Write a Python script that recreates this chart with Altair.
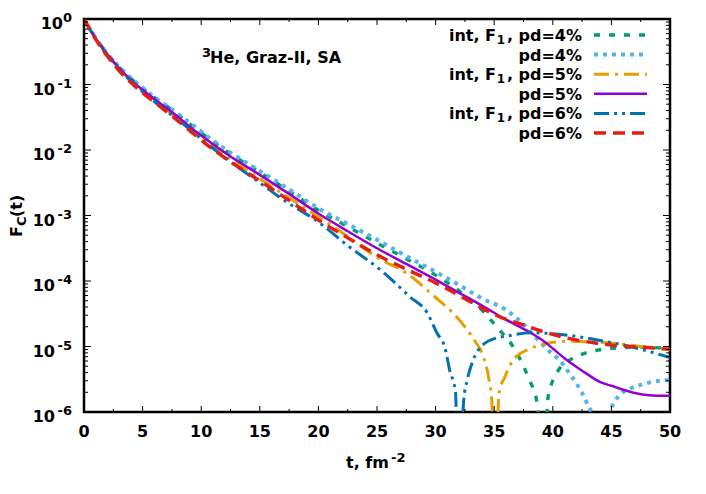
import altair as alt
import pandas as pd

# ---------------- data (t in fm^-2, values given as log10 F_C) ----------------
t_int4 = [0, 1, 2, 3, 4, 5, 6, 7.5, 9, 10, 12.5, 15, 17.5, 20, 22.5, 25, 27.5, 30, 32, 33, 34.2, 35.2, 36.6,
          37.9, 38.7, 39.2, 39.6, 40.6, 41.5, 42.3, 44, 45.7, 47.4, 50]
lg_int4 = [0, -0.29, -0.53, -0.74, -0.91, -1.06, -1.20, -1.39, -1.60, -1.74, -2.06, -2.34, -2.63, -2.92, -3.17,
           -3.42, -3.66, -3.91, -4.15, -4.30, -4.49, -4.70, -5.0, -5.47, -5.9, -7.5, -5.77, -5.33, -5.20, -5.13,
           -5.05, -5.02, -5.01, -5.03]

t_pd4 = [0, 1, 2, 3, 4, 5, 6, 7.5, 9, 10, 12.5, 15, 17.5, 20, 22.5, 25, 27.5, 30, 32, 34, 36, 37.5, 38.9, 40,
         40.6, 41.3, 42, 42.9, 43.5, 44.2, 44.9, 45.3, 45.7, 46.5, 47.4, 48.5, 50]
lg_pd4 = [0, -0.29, -0.53, -0.73, -0.90, -1.05, -1.19, -1.38, -1.58, -1.72, -2.04, -2.32, -2.60, -2.89, -3.13,
          -3.37, -3.62, -3.86, -4.06, -4.27, -4.44, -4.66, -4.93, -5.12, -5.21, -5.38, -5.56, -5.86, -6.15, -7.5,
          -6.0, -5.84, -5.74, -5.65, -5.59, -5.54, -5.51]

t_int5 = [0, 1, 2, 3, 4, 5, 6, 7.5, 9, 10, 12.5, 15, 17.5, 20, 22.5, 25, 27.5, 30, 31.8, 33.4, 34, 34.5, 34.8,
          35.1, 35.4, 35.9, 36.6, 37.3, 38.1, 39.5, 41.5, 43, 45.1, 47.5, 50]
lg_int5 = [0, -0.30, -0.55, -0.76, -0.94, -1.10, -1.24, -1.45, -1.66, -1.81, -2.14, -2.44, -2.73, -3.02, -3.32,
           -3.64, -3.88, -4.25, -4.55, -4.93, -5.12, -5.45, -5.85, -7.5, -5.72, -5.47, -5.21, -5.10, -5.03, -4.95,
           -4.92, -4.93, -4.95, -5.0, -5.05]

t_pd5 = [0, 1, 2, 3, 4, 5, 6, 7.5, 9, 10, 12.5, 15, 17.5, 20, 22.5, 25, 27.5, 30, 32, 34, 36, 38, 39, 40, 41,
         42, 43, 44, 45, 46, 47, 48, 49, 50]
lg_pd5 = [0, -0.30, -0.54, -0.75, -0.93, -1.08, -1.22, -1.42, -1.64, -1.78, -2.10, -2.38, -2.67, -2.97, -3.24,
          -3.50, -3.74, -3.98, -4.18, -4.38, -4.59, -4.78, -4.89, -5.03, -5.18, -5.31, -5.43, -5.54, -5.60, -5.66,
          -5.71, -5.74, -5.75, -5.75]

t_int6 = [0, 1, 2, 3, 4, 5, 6, 7.5, 9, 10, 12.5, 15, 17, 20, 22.5, 25.5, 27.8, 29.3, 30.1, 30.8, 31.2, 31.7,
          31.95, 32.4, 32.7, 33.2, 34.0, 35.2, 36.1, 38.1, 40.9, 43.8, 46.6, 50]
lg_int6 = [0, -0.31, -0.56, -0.77, -0.95, -1.11, -1.26, -1.47, -1.68, -1.83, -2.18, -2.50, -2.76, -3.10, -3.46,
           -3.86, -4.24, -4.49, -4.79, -5.02, -5.36, -5.70, -7.5, -5.82, -5.51, -5.21, -4.98, -4.87, -4.84, -4.79,
           -4.82, -4.90, -5.0, -5.17]

t_pd6 = [0, 1, 2, 3, 4, 5, 6, 7.5, 9, 10, 12.5, 15, 17.5, 20, 22.5, 25, 27.5, 30, 32, 33.8, 35.5, 37.5, 39.5,
         41.2, 43, 45.1, 47.5, 50]
lg_pd6 = [0, -0.31, -0.57, -0.79, -0.97, -1.13, -1.27, -1.48, -1.70, -1.85, -2.18, -2.47, -2.77, -3.07, -3.34,
          -3.60, -3.82, -4.03, -4.22, -4.40, -4.55, -4.67, -4.79, -4.87, -4.93, -4.98, -5.01, -5.04]

series_keys = ["int4", "pd4", "int5", "pd5", "int6", "pd6"]
series_pct = ["4", "4", "5", "5", "6", "6"]
series_int = [True, False, True, False, True, False]
series_t = [t_int4, t_pd4, t_int5, t_pd5, t_int6, t_pd6]
series_lg = [lg_int4, lg_pd4, lg_int5, lg_pd5, lg_int6, lg_pd6]
colors = ["#009e73", "#56b4e9", "#e69f00", "#9400d3", "#0072b2", "#e51e10"]
dashes = [[6, 9], [4, 5], [15, 6, 3, 6], [1, 0], [15, 5, 3, 5, 3, 5], [12, 7]]
widths = [3.4, 4, 3, 2.5, 3, 3.4]

x_ticks_major = [0, 5, 10, 15, 20, 25, 30, 35, 40, 45, 50]
x_ticks_minor = [2.5, 7.5, 12.5, 17.5, 22.5, 27.5, 32.5, 37.5, 42.5, 47.5]
y_exps = [0, -1, -2, -3, -4, -5, -6]
y_minor_mult = [2, 3, 4, 5, 6, 7, 8, 9]

# ---------------- layout ----------------
W, H = 586, 393
FONT = "DejaVu Sans"
FS = 16
FSS = 12

xs = alt.Scale(domain=[0, 50], nice=False, zero=False)
ys = alt.Scale(type="log", domain=[1e-6, 1], nice=False)
X = alt.X("t:Q", scale=xs, axis=None)
Y = alt.Y("F:Q", scale=ys, axis=None)

layers = []

# curves
for key, ts, lg, col, dsh, sw in zip(series_keys, series_t, series_lg, colors, dashes, widths):
    d = pd.DataFrame({"t": ts, "F": [10 ** v for v in lg]})
    mk = dict(color=col, strokeWidth=sw, clip=True, interpolate="monotone")
    if key != "pd5":
        mk["strokeDash"] = dsh
    layers.append(alt.Chart(d).mark_line(**mk).encode(x=X, y=Y, order="t:Q"))

# ticks (inward, all four sides)
dxM = pd.DataFrame({"t": x_ticks_major})
dxm = pd.DataFrame({"t": x_ticks_minor})
dyM = pd.DataFrame({"F": [10.0 ** e for e in y_exps]})
dym = pd.DataFrame({"F": [m * 10.0 ** e for e in y_exps[1:] for m in y_minor_mult]})
tk = dict(color="black", strokeWidth=1)
layers += [
    alt.Chart(dxM).mark_rule(**tk).encode(x=X, y=alt.value(H), y2=alt.value(H - 6)),
    alt.Chart(dxM).mark_rule(**tk).encode(x=X, y=alt.value(0), y2=alt.value(6)),
    alt.Chart(dxm).mark_rule(**tk).encode(x=X, y=alt.value(H), y2=alt.value(H - 3)),
    alt.Chart(dxm).mark_rule(**tk).encode(x=X, y=alt.value(0), y2=alt.value(3)),
    alt.Chart(dyM).mark_rule(**tk).encode(y=Y, x=alt.value(0), x2=alt.value(7)),
    alt.Chart(dyM).mark_rule(**tk).encode(y=Y, x=alt.value(W), x2=alt.value(W - 7)),
    alt.Chart(dym).mark_rule(**tk).encode(y=Y, x=alt.value(0), x2=alt.value(4)),
    alt.Chart(dym).mark_rule(**tk).encode(y=Y, x=alt.value(W), x2=alt.value(W - 4)),
]

# x tick labels
dxl = pd.DataFrame({"t": x_ticks_major, "lab": [str(v) for v in x_ticks_major]})
layers.append(alt.Chart(dxl).mark_text(font=FONT, fontSize=FS, fontWeight="bold", align="center",
                                       baseline="alphabetic").encode(x=X, y=alt.value(H + 25), text="lab:N"))

# y tick labels: 10 with superscript exponent
dyl = pd.DataFrame({"F": [10.0 ** e for e in y_exps], "e": [str(e) for e in y_exps],
                    "base": ["10"] * len(y_exps)})
txt = dict(font=FONT, fontWeight="bold", baseline="alphabetic")
layers += [
    alt.Chart(dyl[dyl.e == "0"]).mark_text(fontSize=FS, align="right", dy=10, **txt)
    .encode(y=Y, x=alt.value(-21), text="base:N"),
    alt.Chart(dyl[dyl.e != "0"]).mark_text(fontSize=FS, align="right", dy=10, **txt)
    .encode(y=Y, x=alt.value(-29), text="base:N"),
    alt.Chart(dyl).mark_text(fontSize=FSS + 1, align="right", dy=3, **txt)
    .encode(y=Y, x=alt.value(-12), text="e:N"),
]

one = pd.DataFrame({"k": [0]})


def label(text, x, y, size=FS, align="left", angle=0):
    m = dict(text=text, font=FONT, fontSize=size, fontWeight="bold", align=align, baseline="alphabetic")
    if angle:
        m["angle"] = angle
    return alt.Chart(one).mark_text(**m).encode(x=alt.value(x), y=alt.value(y))


# axis titles
layers += [
    label("t, fm", 305, H + 56, align="right"),
    label("-2", 307, H + 50, size=FSS + 1),
    label("F", -62, 218, angle=270),
    label("C", -58, 207, size=FSS + 1, angle=270),
    label("(t)", -62, 198, angle=270),
]

# annotation
layers += [
    label("3", 118, 38, size=FSS + 1),
    label("He, Graz-II, SA", 126, 44),
]

# legend
for i, (key, pct, isint, col, dsh, sw) in enumerate(zip(series_keys, series_pct, series_int, colors, dashes, widths)):
    yr = 16 + 19.6 * i
    if isint:
        layers += [
            label(", pd=" + pct + "%", 498, yr + 6, align="right"),
            label("1", 421, yr + 9, size=FSS, align="right"),
            label("int, F", 412, yr + 6, align="right"),
        ]
    else:
        layers.append(label("pd=" + pct + "%", 498, yr + 6, align="right"))
    rm = dict(color=col, strokeWidth=sw)
    if key != "pd5":
        rm["strokeDash"] = dsh
    layers.append(alt.Chart(one).mark_rule(**rm).encode(x=alt.value(510), x2=alt.value(563), y=alt.value(yr)))

chart = alt.layer(*layers).properties(
    width=W, height=H,
    autosize=alt.AutoSizeParams(type="none"),
    padding={"left": 76, "top": 11, "right": 20, "bottom": 60},
).configure_view(stroke="black", strokeWidth=2.5)

chart.save("out.html", embed_options={"renderer": "svg", "actions": False})
